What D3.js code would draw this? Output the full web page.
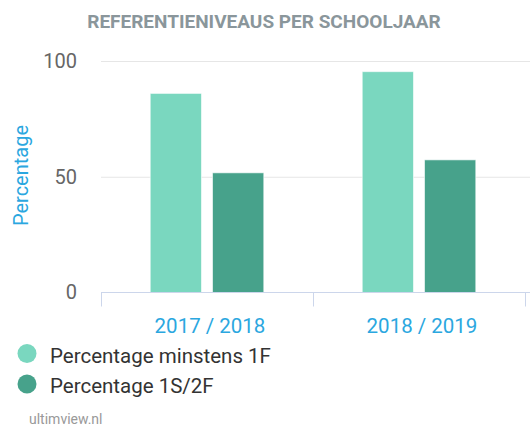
<!DOCTYPE html>
<html>
<head>
<meta charset="utf-8">
<script src="https://cdn.jsdelivr.net/npm/d3@7"></script>
<style>
  body { margin: 0; background: #fff; }
  svg { display: block; font-family: Roboto, sans-serif; }
</style>
</head>
<body>
<div id="chart"></div>
<script>
// data
const categories = ['2017 / 2018', '2018 / 2019']
const seriesNames = ['Percentage minstens 1F', 'Percentage 1S/2F']
const minstens1F = [86, 95.4]
const level1S2F = [51.7, 57.3]
const yTicks = [0, 50, 100]

const colors = ['#7ad7bf', '#47a28b']
const width = 530
const height = 427
const margin = { top: 61, right: 5, bottom: 135, left: 101 }

const svg = d3
  .select('#chart')
  .append('svg')
  .attr('width', width)
  .attr('height', height)

const x0 = d3
  .scaleBand()
  .domain(categories)
  .range([margin.left, 525])

const x1 = d3
  .scaleBand()
  .domain(seriesNames)
  .range([0, x0.bandwidth()])
  .paddingInner(0.177)
  .paddingOuter(0.79)

const y = d3
  .scaleLinear()
  .domain([0, 100])
  .range([292.5, margin.top])

// title
svg
  .append('text')
  .attr('x', 264)
  .attr('y', 27.5)
  .attr('text-anchor', 'middle')
  .attr('font-size', 19)
  .attr('font-weight', 'bold')
  .attr('fill', '#8a969b')
  .text('REFERENTIENIVEAUS PER SCHOOLJAAR')

// y axis with gridlines
const yAxis = svg
  .append('g')
  .attr('transform', `translate(${margin.left},0)`)
  .call(
    d3
      .axisLeft(y)
      .tickValues(yTicks)
      .tickSize(-(width - margin.left))
      .tickPadding(24)
  )
yAxis.select('.domain').remove()
yAxis
  .selectAll('.tick line')
  .attr('stroke', '#e6e6e6')
  .attr('stroke-width', 1)
  .attr('display', d => (d === 0 ? 'none' : null))
yAxis
  .selectAll('.tick text')
  .attr('font-size', 20)
  .attr('font-family', 'Roboto, sans-serif')
  .attr('fill', '#666')

svg
  .append('text')
  .attr('transform', `translate(28,175.5) rotate(-90)`)
  .attr('text-anchor', 'middle')
  .attr('font-size', 20)
  .attr('fill', '#2ba7df')
  .text('Percentage')

// bars
const rows = categories.map((c, i) => ({
  category: c,
  values: [minstens1F[i], level1S2F[i]],
}))

const groups = svg
  .append('g')
  .selectAll('g')
  .data(rows)
  .join('g')
  .attr('transform', d => `translate(${x0(d.category)},0)`)

groups
  .selectAll('rect')
  .data(d => d.values.map((v, i) => ({ name: seriesNames[i], value: v, i })))
  .join('rect')
  .attr('x', d => x1(d.name))
  .attr('y', d => y(d.value))
  .attr('width', x1.bandwidth())
  .attr('height', d => y(0) - y(d.value))
  .attr('fill', d => colors[d.i])
  .attr('stroke', '#fff')
  .attr('stroke-opacity', 0.6)
  .attr('stroke-width', 1)

// x axis
const xAxis = svg
  .append('g')
  .attr('transform', `translate(0,${y(0)})`)
  .call(d3.axisBottom(x0).tickSize(0).tickPadding(26))
xAxis
  .select('.domain')
  .attr('stroke', '#ccd6eb')
  .attr('d', `M${margin.left},0H${width}`)
xAxis
  .selectAll('.tick text')
  .attr('font-size', 20.5)
  .attr('font-family', 'Roboto, sans-serif')
  .attr('fill', '#2ba7df')
  .attr('dx', 3)

const boundaries = [x0.range()[0], ...categories.map(c => x0(c) + x0.bandwidth())]
xAxis
  .selectAll('line.sep')
  .data(boundaries)
  .join('line')
  .attr('class', 'sep')
  .attr('x1', d => d + 0.5)
  .attr('x2', d => d + 0.5)
  .attr('y1', 0)
  .attr('y2', 14)
  .attr('stroke', '#ccd6eb')

// legend
const legend = svg
  .append('g')
  .selectAll('g')
  .data(seriesNames)
  .join('g')
  .attr('transform', (_, i) => `translate(27,${353.5 + i * 30.5})`)

legend
  .append('circle')
  .attr('r', 9.5)
  .attr('fill', (_, i) => colors[i])

legend
  .append('text')
  .attr('x', 23)
  .attr('y', 9)
  .attr('font-size', 20.5)
  .attr('fill', '#333')
  .text(d => d)

svg
  .append('text')
  .attr('x', 29)
  .attr('y', 424)
  .attr('font-size', 14)
  .attr('fill', '#999')
  .text('ultimview.nl')
</script>
</body>
</html>
